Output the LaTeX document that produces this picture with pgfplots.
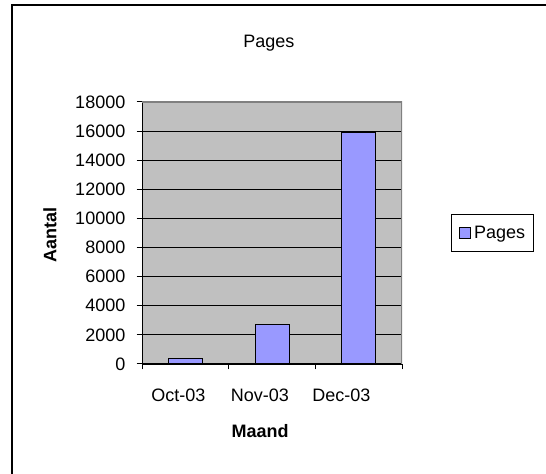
\documentclass[border=0pt]{standalone}
\usepackage{pgfplots}
\pgfplotsset{compat=1.18}
\usepackage{fontspec}
\setmainfont{Liberation Sans}
\definecolor{plotgray}{HTML}{C0C0C0}
\definecolor{barblue}{HTML}{9999FF}
\definecolor{edgegray}{HTML}{808080}

\begin{document}
\begin{tikzpicture}[x=1bp,y=1bp,font=\fontsize{18bp}{21bp}\selectfont]
\useasboundingbox (0,0) rectangle (546,474);
% outer chart frame (only left and top edges are visible in the reference)
\draw[line width=1.5bp] (12,-10) -- (12,469) -- (560,469);
\begin{axis}[
    at={(142bp,110bp)}, anchor=south west,
    scale only axis, width=260bp, height=262bp,
    xmin=-0.5, xmax=2.5, ymin=0, ymax=18000,
    axis x line*=bottom, axis y line*=left,
    axis line style={black, line width=1bp},
    axis background/.style={fill=plotgray},
    ytick={0,2000,...,18000},
    ymajorgrids, grid style={black, line width=0.9bp},
    tick style={black, line width=1bp},
    tick align=outside,
    major tick length=5.5bp,
    xtick={-0.5,0.5,1.5,2.5},
    xticklabels={},
    extra x ticks={-0.08,0.86,1.80},
    extra x tick labels={Oct-03,Nov-03,Dec-03},
    extra x tick style={major tick length=0pt},
    x tick label style={anchor=base, yshift=-38bp},
    y tick label style={anchor=east, inner xsep=0pt, xshift=-11bp},
    /pgf/number format/assume math mode=true,
    scaled y ticks=false,
    yticklabel={\pgfmathprintnumber[fixed,1000 sep={}]{\tick}},
    title={Pages},
    every axis title/.style={at={(axis description cs:0.488,1)}, anchor=base, yshift=54bp},
    xlabel={\bfseries Maand},
    every axis x label/.style={at={(axis description cs:0.454,0)}, anchor=center, yshift=-67bp},
    ylabel={\bfseries Aantal},
    every axis y label/.style={at={(axis description cs:-0.354,0.492)}, anchor=center, rotate=90},
    legend style={at={(axis description cs:1.188,0.5725)}, anchor=north west,
        draw=black, line width=1bp, fill=white,
        inner xsep=8bp, inner ysep=11.5bp,
        nodes={inner sep=0pt}, column sep=3bp},
    legend image code/.code={\draw[#1, line width=0.8bp] (0bp,-5.5bp) rectangle (11bp,5.5bp);},
]
\addplot[ybar, bar width=34bp, fill=barblue, draw=black, line width=1bp]
    coordinates {(0,360) (1,2690) (2,15900)};
\addlegendentry{Pages\hspace{3bp}}
\draw[edgegray, line width=1.5bp] (rel axis cs:0,1) -- (rel axis cs:1,1) -- (rel axis cs:1,0);
\end{axis}
\end{tikzpicture}
\end{document}
